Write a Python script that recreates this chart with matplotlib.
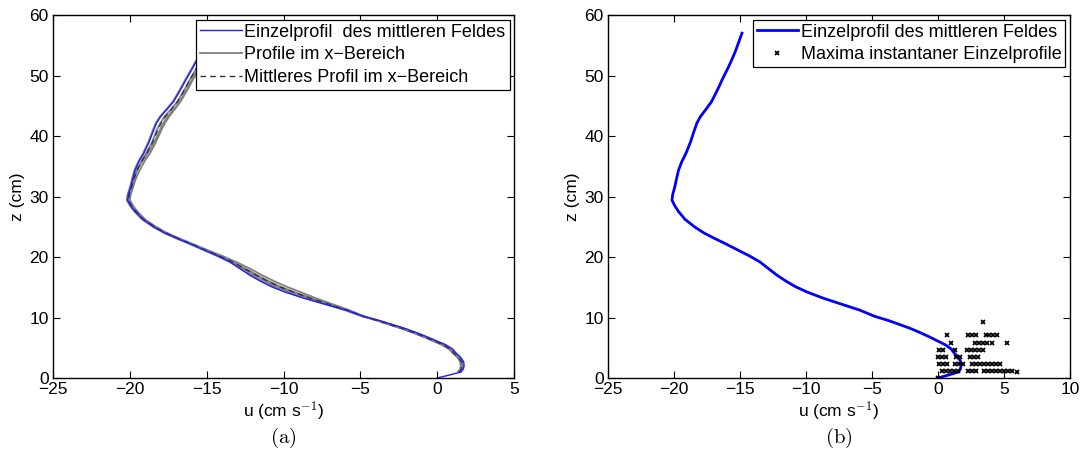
import matplotlib
matplotlib.use("Agg")
import matplotlib.pyplot as plt
import numpy as np

plt.rcParams['font.family'] = ['Liberation Sans', 'DejaVu Sans']
plt.rcParams['mathtext.fontset'] = 'cm'

# mittleres Feld, Einzelprofil (z in cm, u in cm/s)
z_mean_field = [0.0, 0.5, 1.0, 1.5, 2.0, 2.7, 3.5, 4.2, 4.8, 5.5, 6.2, 6.8, 7.5, 8.2, 8.8, 9.5, 10.2,
                11.2, 12.2, 13.2, 14.2, 15.1, 16.0, 17.0, 18.1, 19.2, 20.2, 21.2, 22.2, 23.1, 24.0, 25.0,
                26.2, 27.5, 28.5, 29.4, 30.3, 31.5, 33.0, 34.4, 35.8, 37.1, 39.0, 41.0, 42.2, 43.2, 44.5,
                45.7, 47.0, 48.1, 49.3, 50.4, 51.5, 52.7, 54.0, 55.5, 57.0]
u_mean_field = [0.0, 0.8, 1.55, 1.7, 1.75, 1.72, 1.5, 1.2, 1.0, 0.55, -0.1, -0.65, -1.35, -2.1, -2.85, -3.75, -4.8,
                -5.9, -7.3, -8.7, -9.9, -10.8, -11.5, -12.2, -12.85, -13.5, -14.3, -15.2, -16.1, -16.95, -17.75, -18.45,
                -19.15, -19.65, -19.95, -20.15, -20.1, -19.95, -19.8, -19.65, -19.4, -19.1, -18.75, -18.45, -18.25, -18.0, -17.55,
                -17.15, -16.85, -16.6, -16.35, -16.1, -15.85, -15.6, -15.35, -15.1, -14.85]

# Profile im x-Bereich
z_range = [1.0, 1.5, 2.0, 2.7, 3.5, 4.2, 4.8, 5.5, 6.2, 6.8, 7.5, 8.2, 8.8, 9.5, 10.2,
           11.2, 12.2, 13.2, 14.2, 15.1, 16.0, 17.0, 18.1, 19.2, 20.2, 21.2, 22.2, 23.1, 24.0, 25.0,
           26.2, 27.5, 28.5, 29.4, 30.3, 31.5, 33.0, 34.4, 35.8, 37.1, 39.0, 41.0, 42.2, 43.2, 44.5,
           45.7, 47.0, 48.1, 49.3, 50.4, 51.5, 52.7, 54.0, 55.5, 57.0]
u_range_1 = [1.45, 1.6, 1.62, 1.6, 1.38, 1.08, 0.85, 0.4, -0.25, -0.8, -1.5, -2.25, -3.0, -3.85, -4.8,
             -5.8, -7.0, -8.2, -9.3, -10.2, -10.95, -11.7, -12.5, -13.3, -14.2, -15.1, -16.0, -16.85, -17.65, -18.35,
             -19.05, -19.55, -19.85, -20.05, -20.0, -19.85, -19.7, -19.5, -19.25, -18.95, -18.55, -18.25, -18.0, -17.75, -17.3,
             -16.9, -16.6, -16.35, -16.1, -15.85, -15.6, -15.35, -15.1, -14.85, -14.6]
u_range_2 = [1.35, 1.5, 1.52, 1.5, 1.28, 0.98, 0.75, 0.3, -0.35, -0.9, -1.6, -2.35, -3.1, -3.9, -4.75,
             -5.7, -6.8, -7.9, -8.9, -9.8, -10.6, -11.4, -12.2, -13.1, -14.0, -15.0, -15.95, -16.8, -17.6, -18.3,
             -19.0, -19.5, -19.8, -20.0, -19.95, -19.8, -19.6, -19.35, -19.05, -18.7, -18.3, -17.95, -17.7, -17.45, -17.05,
             -16.7, -16.4, -16.15, -15.9, -15.65, -15.4, -15.15, -14.9, -14.65, -14.4]
u_range_3 = [1.5, 1.65, 1.68, 1.66, 1.44, 1.14, 0.92, 0.48, -0.18, -0.72, -1.42, -2.2, -2.95, -3.85, -4.9,
             -6.0, -7.3, -8.6, -9.75, -10.65, -11.4, -12.1, -12.8, -13.5, -14.35, -15.25, -16.15, -17.0, -17.8, -18.5,
             -19.2, -19.7, -20.0, -20.2, -20.15, -20.0, -19.85, -19.7, -19.45, -19.15, -18.8, -18.5, -18.3, -18.05, -17.6,
             -17.2, -16.9, -16.65, -16.4, -16.15, -15.9, -15.65, -15.4, -15.15, -14.9]
u_range_4 = [1.4, 1.55, 1.58, 1.55, 1.33, 1.03, 0.8, 0.35, -0.3, -0.85, -1.55, -2.3, -3.05, -3.9, -4.85,
             -5.85, -7.1, -8.35, -9.5, -10.4, -11.15, -11.9, -12.65, -13.4, -14.25, -15.15, -16.05, -16.9, -17.7, -18.4,
             -19.1, -19.6, -19.9, -20.1, -20.05, -19.9, -19.75, -19.55, -19.2, -18.85, -18.4, -18.05, -17.8, -17.55, -17.1,
             -16.75, -16.45, -16.2, -15.95, -15.7, -15.45, -15.2, -14.95, -14.7, -14.45]
u_range_mean = [1.43, 1.58, 1.6, 1.58, 1.36, 1.06, 0.83, 0.38, -0.27, -0.82, -1.52, -2.28, -3.03, -3.88, -4.83,
                -5.84, -7.05, -8.26, -9.36, -10.26, -11.03, -11.78, -12.54, -13.33, -14.2, -15.13, -16.04, -16.89, -17.69, -18.39,
                -19.09, -19.59, -19.89, -20.09, -20.04, -19.89, -19.73, -19.53, -19.24, -18.91, -18.51, -18.19, -17.95, -17.7, -17.26,
                -16.89, -16.59, -16.34, -16.09, -15.84, -15.59, -15.34, -15.09, -14.84, -14.59]

# Maxima instantaner Einzelprofile
u_max = [0.0,
         0.3, 0.6, 0.9, 1.2, 1.5, 2.3, 2.6, 2.9, 3.5, 3.8, 4.1, 4.4, 4.7, 5.0, 5.3, 5.6, 6.0,
         0.1, 0.4, 0.7, 1.3, 1.6, 1.9, 2.6, 2.9, 3.2, 3.5, 3.8, 4.1, 4.4, 4.7,
         0.0, 0.3, 0.6, 1.4, 1.7, 2.4, 2.7, 3.0,
         0.1, 0.4, 1.3, 2.2, 2.5, 2.8, 3.1, 3.4,
         1.0, 2.8, 3.1, 3.4, 3.7, 4.1, 5.2,
         0.7, 2.3, 2.6, 2.9, 3.6, 3.9, 4.2, 4.5,
         3.4]
z_max = [0.0,
         1.1, 1.1, 1.1, 1.1, 1.1, 1.1, 1.1, 1.1, 1.1, 1.1, 1.1, 1.1, 1.1, 1.1, 1.1, 1.1, 1.0,
         2.3, 2.3, 2.3, 2.3, 2.3, 2.3, 2.3, 2.3, 2.3, 2.3, 2.3, 2.3, 2.3, 2.3,
         3.4, 3.4, 3.4, 3.4, 3.4, 3.4, 3.4, 3.4,
         4.6, 4.6, 4.6, 4.6, 4.6, 4.6, 4.6, 4.6,
         5.8, 5.8, 5.8, 5.8, 5.8, 5.8, 5.8,
         7.1, 7.1, 7.1, 7.1, 7.1, 7.1, 7.1, 7.1,
         9.3]

fs = 12.5
fs_leg = 13

fig = plt.figure(figsize=(10.82, 4.74), dpi=100)
ax1 = fig.add_axes([0.0490, 0.2025, 0.4261, 0.7658])
ax2 = fig.add_axes([0.5619, 0.2025, 0.4270, 0.7658])


def style_axes(ax, xmax):
    ax.set_xlim(-25, xmax)
    ax.set_ylim(0, 60)
    ax.set_xticks(np.arange(-25, xmax + 1, 5))
    ax.set_yticks(np.arange(0, 61, 10))
    ax.tick_params(direction='in', top=True, right=True, length=5, width=0.8,
                   labelsize=fs, pad=3)
    for sp in ax.spines.values():
        sp.set_linewidth(1.0)
    ax.set_xlabel(r'u (cm s$^{-1}$)', fontsize=fs, labelpad=2)
    ax.set_ylabel('z (cm)', fontsize=fs, labelpad=3)


def style_legend(leg):
    leg.get_frame().set_edgecolor('black')
    leg.get_frame().set_linewidth(0.9)
    leg.get_frame().set_alpha(1)


# (a)
grey = '#808080'
for u in [u_range_1, u_range_2, u_range_3, u_range_4]:
    l_grey, = ax1.plot(u, z_range, color=grey, lw=1.3)
l_dash, = ax1.plot(u_range_mean, z_range, color='0.2', lw=1.0, ls=(0, (4, 3)))
l_blue, = ax1.plot(u_mean_field, z_mean_field, color='#2020ff', lw=1.0)
style_axes(ax1, 5)
leg1 = ax1.legend([l_blue, l_grey, l_dash],
                  ['Einzelprofil  des mittleren Feldes', 'Profile im x\u2212Bereich',
                   'Mittleres Profil im x\u2212Bereich'],
                  loc='upper right', fontsize=fs_leg, frameon=True, fancybox=False,
                  borderaxespad=0.25, handlelength=2.3, handletextpad=0.15,
                  labelspacing=0.32, borderpad=0.22)
style_legend(leg1)

# (b)
l_b, = ax2.plot(u_mean_field, z_mean_field, color='#0000ff', lw=2.0)
s_b, = ax2.plot(u_max, z_max, ls='none', marker='x', color='black', ms=3.5, mew=1.3)
style_axes(ax2, 10)
leg2 = ax2.legend([l_b, s_b], ['Einzelprofil des mittleren Feldes', 'Maxima instantaner Einzelprofile'],
                  loc='upper right', fontsize=fs_leg, frameon=True, fancybox=False,
                  borderaxespad=0.25, handlelength=2.3, handletextpad=0.15,
                  labelspacing=0.32, borderpad=0.22)
style_legend(leg2)

fig.text(0.2616, 0.076, r'$\mathrm{(a)}$', ha='center', va='center', fontsize=15)
fig.text(0.7754, 0.076, r'$\mathrm{(b)}$', ha='center', va='center', fontsize=15)

fig.savefig('out.png', dpi=100)
